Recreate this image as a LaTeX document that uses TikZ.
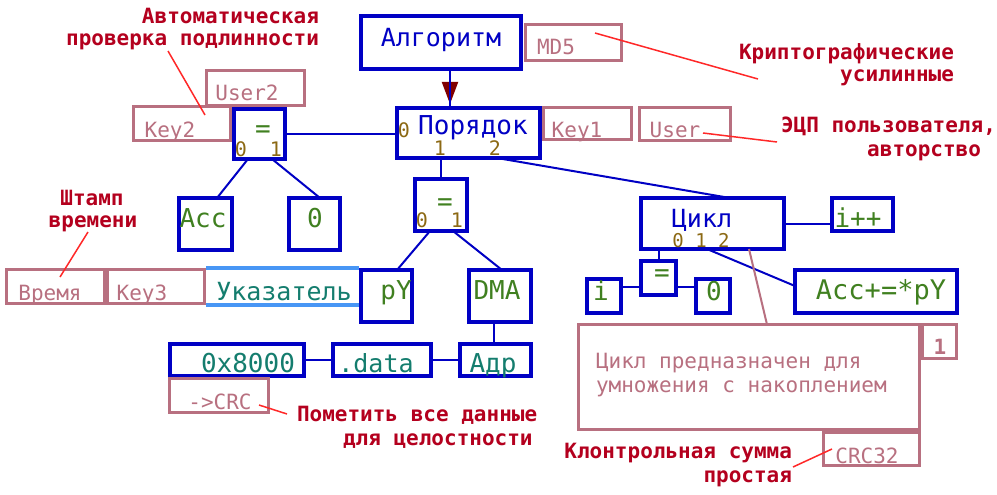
\documentclass[tikz,border=0pt]{standalone}
\usepackage{fontspec}
\setmainfont{DejaVu Sans Mono}
\usetikzlibrary{arrows.meta,calc}
\definecolor{kblue}{RGB}{0,0,196}
\definecolor{kpink}{RGB}{184,112,128}
\definecolor{kgreen}{RGB}{64,128,32}
\definecolor{kolive}{RGB}{140,105,20}
\definecolor{kteal}{RGB}{20,125,110}
\definecolor{klred}{RGB}{180,0,30}
\definecolor{kred}{RGB}{255,40,40}
\definecolor{arrred}{RGB}{128,0,0}
\definecolor{ulblue}{RGB}{72,150,245}
\newcommand\fz[1]{\fontsize{#1}{#1}\selectfont}
\begin{document}
\begin{tikzpicture}[x=1pt,y=-1pt,
  bb/.style={draw=kblue, line width=4pt, inner sep=0pt, outer sep=0pt, rectangle},
  pb/.style={draw=kpink, line width=3pt, inner sep=0pt, outer sep=0pt, rectangle},
  conn/.style={draw=kblue, line width=2pt},
  pconn/.style={draw=kpink, line width=2pt},
  rconn/.style={draw=kred, line width=1.5pt},
  tx/.style={anchor=base, inner sep=0pt, outer sep=0pt},
  bluet/.style={tx, text=kblue, font=\fz{25}},
  greent/.style={tx, text=kgreen, font=\fz{26}},
  pinkt/.style={tx, text=kpink, font=\fz{21}},
  olivet/.style={tx, text=kolive, font=\fz{20}},
  tealt/.style={tx, text=kteal, font=\fz{25}},
  redt/.style={inner sep=0pt, outer sep=0pt, text=klred, font=\fz{21}\bfseries}
]
\useasboundingbox (0,0) rectangle (997,495);
\fill[white] (0,0) rectangle (997,495);

% ---------- blue boxes ----------
\node[bb, minimum width=160pt, minimum height=53pt] (alg) at (441,42.5) {};
\node[bb, minimum width=143pt, minimum height=50pt] (por) at (468.5,133) {};
\node[bb, minimum width=51pt, minimum height=50pt] (eqL) at (259.5,134) {};
\node[bb, minimum width=53pt, minimum height=52pt] (acc) at (205.5,224) {};
\node[bb, minimum width=51pt, minimum height=52pt] (zeroL) at (314.5,224) {};
\node[bb, minimum width=52pt, minimum height=52pt] (eqM) at (441,205) {};
\node[bb, minimum width=51pt, minimum height=52pt] (py) at (386.5,296) {};
\node[bb, minimum width=62pt, minimum height=52pt] (dma) at (500,296) {};
\node[bb, minimum width=134pt, minimum height=32pt] (hex) at (237,360) {};
\node[bb, minimum width=98pt, minimum height=32pt] (data) at (382,360) {};
\node[bb, minimum width=71pt, minimum height=32pt] (adr) at (495.5,360) {};
\node[bb, minimum width=143pt, minimum height=51pt] (cyc) at (712.5,223.5) {};
\node[bb, minimum width=61pt, minimum height=33pt] (ipp) at (862.5,214.5) {};
\node[bb, minimum width=35pt, minimum height=34pt] (eqS) at (658.5,278) {};
\node[bb, minimum width=34pt, minimum height=34pt] (ib) at (604,296) {};
\node[bb, minimum width=34pt, minimum height=34pt] (zeroR) at (713,296) {};
\node[bb, minimum width=162pt, minimum height=43pt] (accp) at (876,291.5) {};

% ---------- pointer field ----------
\node[inner sep=0pt, outer sep=0pt, minimum width=153pt, minimum height=37pt] (ukz) at (282.5,286.5) {};
\draw[ulblue, line width=4pt] (ukz.north west) -- (ukz.north east) (ukz.south west) -- (ukz.south east);

% ---------- pink boxes ----------
\node[pb, minimum width=96pt, minimum height=36pt] (md5) at (573.5,42.5) {};
\node[pb, minimum width=88pt, minimum height=32pt] (key1) at (587.5,123.5) {};
\node[pb, minimum width=91pt, minimum height=33pt] (user) at (685,124) {};
\node[pb, minimum width=98pt, minimum height=35pt] (user2) at (255.5,88) {};
\node[pb, minimum width=97pt, minimum height=34pt] (key2) at (182,123.5) {};
\node[pb, minimum width=98pt, minimum height=34pt] (vrem) at (55.5,286.5) {};
\node[pb, minimum width=97pt, minimum height=34pt] (key3) at (156,286.5) {};
\node[pb, minimum width=99pt, minimum height=34pt] (crc) at (219,395.5) {};
\node[pb, minimum width=341pt, minimum height=105pt] (cmt) at (749,377) {};
\node[pb, minimum width=34pt, minimum height=34pt] (one) at (939.5,341.5) {};
\node[pb, minimum width=96pt, minimum height=33pt] (crc32) at (871.5,449) {};

% ---------- connectors ----------
\draw[conn, -{Triangle[length=22pt,width=16pt,color=arrred]}, shorten >=4pt] ([xshift=9pt]alg.south) -- ([xshift=-18.5pt]por.north);
\draw[conn] ([xshift=9pt]alg.south) -- ([xshift=-18.5pt]por.north);
\draw[conn] (eqL.east) -- (eqL.east -| por.west);
\draw[conn] ([xshift=-11.5pt]eqL.south) -- ([xshift=11.5pt]acc.north);
\draw[conn] ([xshift=12.5pt]eqL.south) -- ([xshift=5.5pt]zeroL.north);
\draw[conn] ([xshift=-27.5pt]por.south) -- (eqM.north);
\draw[conn] ([xshift=-11pt]eqM.south) -- ([xshift=10.5pt]py.north);
\draw[conn] ([xshift=12pt]eqM.south) -- ([xshift=2pt]dma.north);
\draw[conn] ([xshift=-6pt]dma.south) -- ([xshift=-6pt]dma.south |- adr.north);
\draw[conn] (hex.east) -- (data.west);
\draw[conn] (data.east) -- (adr.west);
\draw[conn] ([xshift=28.5pt]por.south) -- ([xshift=17.5pt]cyc.north);
\draw[conn] (cyc.east) -- (cyc.east -| ipp.west);
\draw[conn] (eqS.north |- cyc.south) -- (eqS.north);
\draw[conn] ([yshift=9pt]ib.east) -- ([yshift=9pt]ib.east -| eqS.west);
\draw[conn] ([yshift=9pt]zeroR.west -| eqS.east) -- ([yshift=9pt]zeroR.west);
\draw[conn] ([xshift=-5.5pt]cyc.south) -- ([yshift=5.5pt]accp.west);
\draw[pconn] ([xshift=36.5pt]cyc.south) -- ([xshift=18pt]cmt.north);

% ---------- box texts ----------
\node[bluet] (talg) at (441,47) {Алгоритм};
\node[pinkt] (tmd5) at (556,55) {MD5};
\node[bluet, font=\fz{26}] (tpor) at (473,135) {Порядок};
\node[olivet] (tpor0) at (404,137) {0};
\node[olivet] (tpor1) at (440,155) {1};
\node[olivet] (tpor2) at (495,155) {2};
\node[pinkt] (tkey1) at (577,137) {Key1};
\node[pinkt] (tuser) at (675,137) {User};
\node[pinkt] (tuser2) at (247,100) {User2};
\node[pinkt] (tkey2) at (170,137) {Key2};
\node[greent] (teqL) at (263,137) {=};
\node[olivet] (teqL0) at (241,156) {0};
\node[olivet] (teqL1) at (276,156) {1};
\node[greent] (tacc) at (203,227) {Acc};
\node[greent] (tzeroL) at (315,227) {0};
\node[pinkt] (tvrem) at (50,300) {Время};
\node[pinkt] (tkey3) at (142,300) {Key3};
\node[tealt] (tukz) at (284,300) {Указатель};
\node[greent] (teqM) at (445,210) {=};
\node[olivet] (teqM0) at (422,227) {0};
\node[olivet] (teqM1) at (457,227) {1};
\node[greent] (tpy) at (396,299) {pY};
\node[greent] (tdma) at (497,299) {DMA};
\node[tealt, font=\fz{26}] (thex) at (248,372) {0x8000};
\node[tealt] (tdata) at (376,372) {.data};
\node[tealt, font=\fz{26}] (tadr) at (493,372) {Адр};
\node[pinkt] (tcrc) at (220,409) {->CRC};
\node[bluet] (tcyc) at (702,227) {Цикл};
\node[olivet, font=\fz{19}] (tcyc012) at (701,247) {0 1 2};
\node[greent] (tipp) at (858,227) {i++};
\node[greent] (teqS) at (662,281) {=};
\node[greent] (tib) at (601,300) {i};
\node[greent] (tzeroR) at (714,300) {0};
\node[greent, font=\fz{27}] (taccp) at (881,299) {Acc+=*pY};
\node[pinkt, anchor=base west] (tcmt1) at (596,368) {Цикл предназначен для};
\node[pinkt, anchor=base west] (tcmt2) at (596,392) {умножения с накоплением};
\node[pinkt, font=\fz{21}\bfseries] (tone) at (940,354) {1};
\node[pinkt] (tcrc32) at (867,463) {CRC32};

% ---------- red annotations ----------
\node[redt, anchor=base east] (la1) at (319,24) {Автоматическая};
\node[redt, anchor=base east] (la2) at (319,46) {проверка подлинности};
\node[redt, anchor=base east] (lb1) at (954,60) {Криптографические};
\node[redt, anchor=base east] (lb2) at (954,82) {усилинные};
\node[redt, anchor=base west] (lc1) at (781,132) {ЭЦП пользователя,};
\node[redt, anchor=base east] (lc2) at (981,156) {авторство};
\node[redt, anchor=base] (ld1) at (92,205) {Штамп};
\node[redt, anchor=base] (ld2) at (93,227) {времени};
\node[redt, anchor=base west] (le1) at (297,421) {Пометить все данные};
\node[redt, anchor=base west] (le2) at (343,445) {для целостности};
\node[redt, anchor=base east] (lf1) at (792,458) {Клонтрольная сумма};
\node[redt, anchor=base east] (lf2) at (792,482) {простая};

\coordinate (ra1) at (168,51);   \coordinate (ra2) at (205,115);
\coordinate (rb1) at (595,33);   \coordinate (rb2) at (758,79);
\coordinate (rc1) at (703,133);  \coordinate (rc2) at (777,142);
\coordinate (rd1) at (88,232);   \coordinate (rd2) at (60,277);
\coordinate (re1) at (259,405);  \coordinate (re2) at (287,414);
\coordinate (rf1) at (832,449);  \coordinate (rf2) at (793,467);
\draw[rconn] (ra1) -- (ra2);
\draw[rconn] (rb1) -- (rb2);
\draw[rconn] (rc1) -- (rc2);
\draw[rconn] (rd1) -- (rd2);
\draw[rconn] (re1) -- (re2);
\draw[rconn] (rf1) -- (rf2);
\end{tikzpicture}
\end{document}
